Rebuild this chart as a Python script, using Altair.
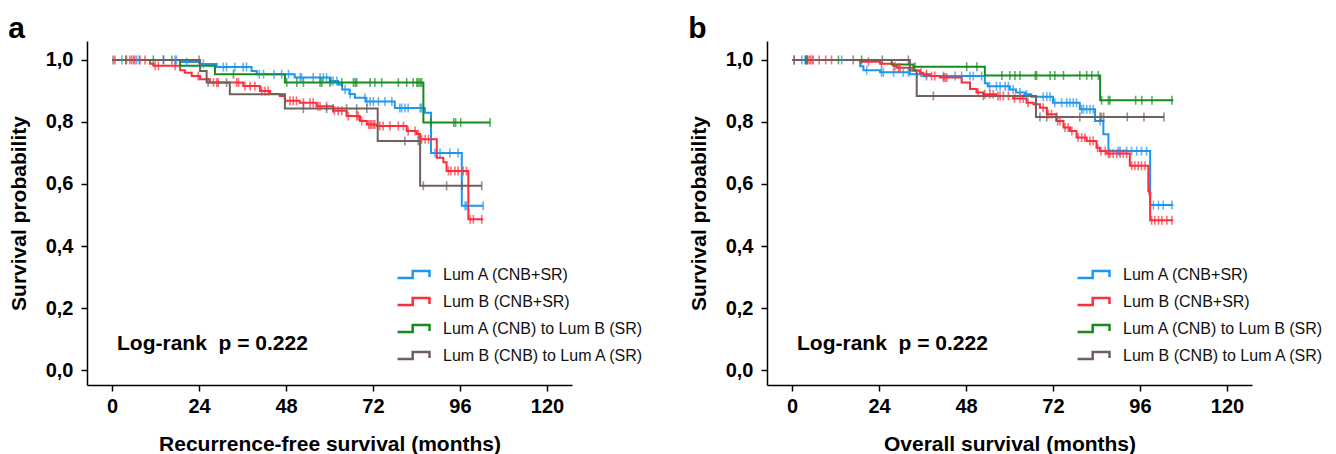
import altair as alt
import pandas as pd

FONT = "Liberation Sans"
GROUPS = ["Lum A (CNB+SR)", "Lum B (CNB+SR)", "Lum A (CNB) to Lum B (SR)", "Lum B (CNB) to Lum A (SR)"]
COLORS = ["#1E96F0", "#FF2D3C", "#148C1E", "#6E605C"]

X_TICKS = [0, 24, 48, 72, 96, 120]
Y_TICKS = [0.0, 0.2, 0.4, 0.6, 0.8, 1.0]
PANEL_LETTERS = ["a", "b"]
X_TITLES = ["Recurrence-free survival (months)", "Overall survival (months)"]
Y_TITLE = "Survival probability"
PVALUE_TEXT = ["Log-rank\u00a0\u00a0p = 0.222"]

# ---------------- panel a : recurrence-free survival ----------------
a_A_t = [0, 18.8, 24.3, 28.9, 38.5, 39.9, 50.4, 60.1, 62.4, 63.5, 65.5, 67.0, 70.0, 78.0, 86.3, 88.0, 96.5, 102.4]
a_A_s = [1.0, 0.993, 0.987, 0.977, 0.964, 0.954, 0.943, 0.932, 0.921, 0.905, 0.89, 0.878, 0.866, 0.845, 0.83, 0.70, 0.53, 0.53]
a_A_c = [2.7, 6.8, 7.5, 14.2, 17.4, 17.8, 20.6, 25.2, 30.7, 31.6, 33.9, 36.2, 37.1, 40.6, 41.8, 44.7, 46.8, 48.7,
         51.9, 52.3, 55.5, 57.4, 58.3, 59.2, 60.5, 61.0, 62.0, 64.3, 65.7, 69.8, 70.3, 71.2, 72.1, 73.5, 75.3, 77.2,
         79.4, 79.9, 80.8, 81.7, 85.0, 85.4, 89.1, 90.5, 93.2, 95.5, 97.4, 97.8, 102.4]

a_B_t = [0, 10.5, 11.4, 18.8, 20.1, 22.0, 24.3, 27.0, 36.2, 40.8, 43.6, 46.3, 47.7, 51.8, 56.4, 61.0, 64.7, 68.4,
         70.3, 73.0, 81.3, 84.0, 85.0, 89.6, 91.4, 92.3, 98.3, 102.4]
a_B_s = [1.0, 0.988, 0.981, 0.967, 0.959, 0.948, 0.938, 0.927, 0.916, 0.900, 0.890, 0.884, 0.868, 0.862, 0.851,
         0.836, 0.819, 0.803, 0.792, 0.787, 0.771, 0.761, 0.744, 0.685, 0.670, 0.642, 0.486, 0.486]
a_B_c = [0.8, 4.0, 4.9, 5.4, 5.9, 6.3, 7.7, 9.1, 11.9, 12.8, 17.4, 23.8, 28.0, 28.9, 29.3, 34.4, 34.9, 36.7, 38.1,
         39.4, 41.3, 42.2, 43.1, 49.1, 50.0, 50.9, 52.8, 54.6, 55.5, 56.8, 57.4, 59.2, 61.4, 62.4, 63.4, 65.2, 67.5,
         67.9, 68.9, 70.8, 71.2, 71.6, 72.1, 72.5, 73.9, 74.8, 76.7, 79.0, 80.4, 81.7, 83.6, 84.5, 85.4, 86.4, 87.3,
         92.8, 93.5, 94.6, 95.5, 96.9, 97.8, 98.8, 99.7, 102.0]

a_AB_t = [0, 18.8, 28.4, 47.7, 85.9, 104.3]
a_AB_s = [1.0, 0.981, 0.954, 0.927, 0.798, 0.798]
a_AB_c = [3.8, 11.4, 33.5, 48.2, 51.0, 52.8, 57.4, 57.9, 60.1, 63.4, 66.6, 67.1, 67.5, 71.2, 72.5, 74.4, 79.0,
          81.3, 83.1, 84.1, 84.5, 85.0, 85.4, 87.9, 94.3, 94.8, 96.2, 104.3]

a_BA_t = [0, 24.3, 26.1, 32.5, 47.7, 73.3, 85.0, 102.0]
a_BA_s = [1.0, 0.964, 0.927, 0.889, 0.843, 0.739, 0.594, 0.594]
a_BA_c = [0.3, 14.2, 16.5, 24.0, 26.5, 31.6, 52.8, 59.2, 61.0, 64.7, 67.5, 70.3, 80.8, 84.5, 85.9, 92.3, 96.5, 102.0]

# ---------------- panel b : overall survival ----------------
b_A_t = [0, 18.8, 19.7, 24.3, 32.5, 36.2, 53.2, 54.0, 60.1, 61.8, 64.3, 66.0, 72.0, 79.4, 83.6, 85.9, 87.3, 98.8, 105.2]
b_A_s = [1.0, 0.98, 0.967, 0.96, 0.954, 0.948, 0.925, 0.915, 0.905, 0.895, 0.889, 0.881, 0.862, 0.841, 0.803,
         0.76, 0.706, 0.532, 0.532]
b_A_c = [2.7, 3.6, 5.9, 13.7, 20.6, 24.7, 25.2, 28.0, 30.7, 32.1, 37.1, 41.8, 45.0, 46.8, 49.1, 50.0, 52.3, 54.5,
         56.4, 57.4, 58.8, 59.7, 61.0, 62.9, 64.7, 69.3, 70.3, 71.2, 72.5, 74.4, 75.8, 76.7, 77.6, 78.5, 79.9, 80.4,
         81.3, 82.2, 83.1, 85.0, 90.0, 90.5, 92.3, 93.7, 95.1, 96.4, 97.8, 99.7, 101.1, 102.4, 104.8]

b_B_t = [0, 18.8, 24.3, 28.0, 29.0, 33.5, 35.3, 36.2, 38.1, 40.8, 46.8, 49.1, 50.9, 52.8, 56.4, 61.0, 64.7, 66.6,
         68.4, 70.3, 72.9, 74.9, 76.7, 78.5, 81.3, 84.0, 84.9, 86.8, 93.2, 98.3, 98.8, 105.2]
b_B_s = [1.0, 0.994, 0.988, 0.980, 0.975, 0.966, 0.959, 0.954, 0.948, 0.943, 0.927, 0.906, 0.895, 0.889, 0.884,
         0.876, 0.862, 0.857, 0.846, 0.825, 0.803, 0.782, 0.771, 0.750, 0.739, 0.717, 0.706, 0.698, 0.659, 0.577,
         0.483, 0.483]
b_B_c = [0.6, 3.8, 4.2, 4.7, 5.1, 5.6, 7.5, 9.3, 10.9, 21.1, 24.7, 28.4, 29.4, 29.8, 35.6, 37.1, 38.5, 39.4, 41.8,
         42.2, 42.7, 51.3, 53.2, 54.6, 55.5, 56.8, 57.4, 58.3, 59.7, 61.4, 62.9, 63.8, 65.1, 69.3, 70.7, 71.6, 73.3,
         73.9, 75.3, 76.2, 77.2, 78.9, 79.9, 80.8, 82.2, 83.1, 84.3, 85.2, 86.4, 87.3, 87.7, 88.6, 89.6, 90.5, 91.4,
         92.3, 93.7, 94.6, 95.5, 96.4, 97.4, 98.5, 99.2, 100.1, 101.1, 102.0, 103.4, 104.8]

b_AB_t = [0, 27.5, 33.5, 53.2, 85.0, 105.2]
b_AB_s = [1.0, 0.985, 0.978, 0.950, 0.870, 0.870]
b_AB_c = [3.8, 4.2, 12.8, 19.2, 33.9, 48.2, 51.0, 57.9, 60.1, 61.5, 62.9, 67.1, 67.5, 71.2, 72.5, 74.9, 79.4, 81.3,
          82.7, 84.5, 85.4, 87.3, 87.7, 94.8, 96.5, 99.3, 104.8]

b_BA_t = [0, 32.5, 34.4, 67.3, 102.7]
b_BA_s = [1.0, 0.966, 0.884, 0.816, 0.816]
b_BA_c = [0.6, 16.9, 24.9, 32.1, 39.0, 52.8, 68.4, 70.3, 73.0, 79.4, 85.0, 85.4, 86.0, 92.5, 97.1, 102.6]

PANELS = [
    [(GROUPS[0], a_A_t, a_A_s, a_A_c), (GROUPS[1], a_B_t, a_B_s, a_B_c),
     (GROUPS[2], a_AB_t, a_AB_s, a_AB_c), (GROUPS[3], a_BA_t, a_BA_s, a_BA_c)],
    [(GROUPS[0], b_A_t, b_A_s, b_A_c), (GROUPS[1], b_B_t, b_B_s, b_B_c),
     (GROUPS[2], b_AB_t, b_AB_s, b_AB_c), (GROUPS[3], b_BA_t, b_BA_s, b_BA_c)],
]


def build_frames(series):
    steps, cens = [], []
    for order, (g, ts, ss, cs) in enumerate(series):
        for t, s in zip(ts, ss):
            steps.append({"group": g, "t": t, "s": s, "k": order})
        for c in cs:
            idx = max(i for i, t in enumerate(ts) if t <= c)
            cens.append({"group": g, "t": c, "s": ss[idx], "k": order})
    return pd.DataFrame(steps), pd.DataFrame(cens)


# step-shaped legend glyph; the path retraces itself so its fill has no area
LEGEND_PATH = ("M-2,0.44L-0.1,0.44L-0.1,-0.44L2,-0.44L2,0.3"
               "L2,-0.44L-0.1,-0.44L-0.1,0.44Z")


def make_panel(i):
    df_steps, df_cens = build_frames(PANELS[i])
    x = alt.X("t:Q",
              scale=alt.Scale(domain=[-6.9, 126.9], nice=False, zero=False),
              axis=alt.Axis(values=X_TICKS, title=X_TITLES[i], format="d"))
    y = alt.Y("s:Q",
              scale=alt.Scale(domain=[-0.048, 1.061], nice=False, zero=False),
              axis=alt.Axis(values=Y_TICKS, title=Y_TITLE,
                            labelExpr="replace(format(datum.value, '.1f'), '.', ',')"))
    color_scale = alt.Scale(domain=GROUPS, range=COLORS)
    lines = alt.Chart(df_steps).mark_line(interpolate="step-after", strokeWidth=2).encode(
        x=x, y=y,
        color=alt.Color("group:N", scale=color_scale, sort=GROUPS,
                        legend=alt.Legend(title=None, orient="none", legendX=317, legendY=224,
                                          symbolType=LEGEND_PATH, symbolSize=256,
                                          symbolStrokeWidth=2.5, symbolFillColor="transparent",
                                          labelFontSize=16, labelFont=FONT, labelColor="#111111",
                                          labelLimit=0, labelOffset=20, rowPadding=8, padding=0)),
        order="k:Q",
    )
    ticks = alt.Chart(df_cens).mark_tick(orient="vertical", size=9, thickness=1.6).encode(
        x=x, y=y,
        color=alt.Color("group:N", scale=color_scale, legend=None),
    )
    text = alt.Chart(pd.DataFrame({"label": PVALUE_TEXT})).mark_text(
        align="left", baseline="middle", fontSize=21, fontWeight="bold", font=FONT, color="black"
    ).encode(x=alt.value(30), y=alt.value(303), text="label:N")
    return alt.layer(lines, ticks, text).properties(
        width=485, height=344,
        title=alt.TitleParams(PANEL_LETTERS[i], anchor="start", frame="bounds", fontSize=30,
                              fontWeight="bold", font=FONT, offset=2, dy=5, color="black"),
    )


chart = alt.hconcat(make_panel(0), make_panel(1), spacing=44).resolve_scale(
    color="independent"
).resolve_legend(color="independent").properties(
    padding={"top": 6, "left": 0, "right": 0, "bottom": 0}
).configure_view(stroke=None).configure_axis(
    grid=False, domainColor="black", domainWidth=1.5, tickColor="black", tickWidth=1.5, tickSize=6,
    labelFont=FONT, labelFontSize=20, labelFontWeight="bold", labelColor="black", labelPadding=5,
    titleFont=FONT, titleFontSize=21, titleFontWeight="bold", titleColor="black", titlePadding=17,
).configure_axisY(labelPadding=8, titlePadding=16)

chart.save("out.html", embed_options={"renderer": "svg", "actions": False})
